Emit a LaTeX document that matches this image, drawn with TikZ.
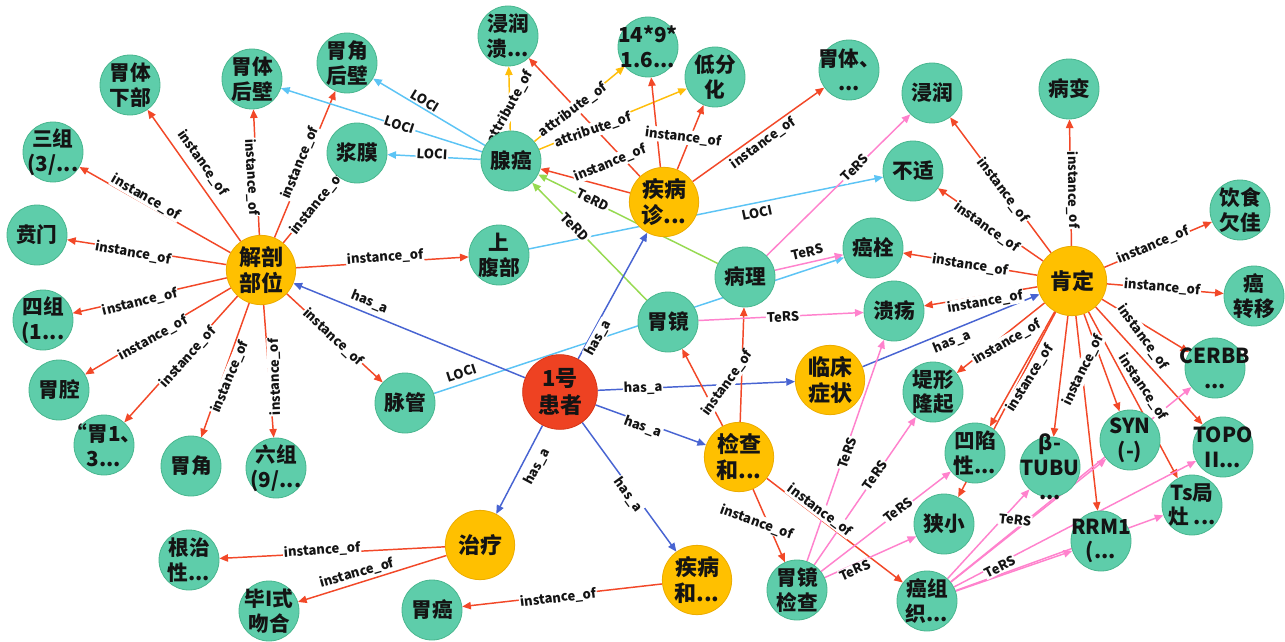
\documentclass[tikz,border=0pt]{standalone}
\usepackage{fontspec}
\newfontfamily\cjk{Noto Sans CJK SC}
\usetikzlibrary{arrows.meta,backgrounds}

\definecolor{gfill}{RGB}{94,205,170}
\definecolor{gline}{RGB}{72,182,142}
\definecolor{ofill}{RGB}{255,192,0}
\definecolor{oline}{RGB}{236,172,0}
\definecolor{rfill}{RGB}{238,66,34}
\definecolor{rline}{RGB}{214,52,22}
\definecolor{txt}{RGB}{20,20,20}
\definecolor{cio}{RGB}{242,72,40}
\definecolor{cloci}{RGB}{92,196,245}
\definecolor{cattr}{RGB}{255,190,10}
\definecolor{cterd}{RGB}{150,218,80}
\definecolor{chas}{RGB}{72,100,210}
\definecolor{cters}{RGB}{255,130,205}

% entity circles: the text is a centred label so it never resizes the circle
\newcommand{\gn}[3]{\node[gnode,label={[gtext]center:{#3}}] (#1) at (#2) {};}
\newcommand{\on}[3]{\node[onode,label={[otext]center:{#3}}] (#1) at (#2) {};}
% relation caption placed along the connector between two entities
\newcommand{\lb}[5]{\path (#1) -- (#2) node[lab,at={(#3)},rotate=#4] {#5};}

\begin{document}
\begin{tikzpicture}[x=0.75pt,y=-0.75pt,
  gnode/.style={circle,draw=gline,fill=gfill,line width=0.6pt,minimum size=45pt,inner sep=0pt},
  onode/.style={circle,draw=oline,fill=ofill,line width=0.6pt,minimum size=52pt,inner sep=0pt},
  rnode/.style={circle,draw=rline,fill=rfill,line width=0.6pt,minimum size=56pt,inner sep=0pt},
  gtext/.style={align=center,inner sep=0pt,text=txt,font=\cjk\bfseries\fontsize{15.5}{18.5}\selectfont},
  otext/.style={align=center,inner sep=0pt,text=txt,font=\cjk\bfseries\fontsize{16.5}{20}\selectfont},
  rel/.style={line width=1.1pt,-{Triangle[length=6.5pt,width=5.5pt]}},
  io/.style={rel,draw=cio},
  loci/.style={rel,draw=cloci},
  attr/.style={rel,draw=cattr},
  terd/.style={rel,draw=cterd},
  hasa/.style={rel,draw=chas},
  ters/.style={rel,draw=cters},
  lab/.style={fill=white,inner sep=0.7pt,text=txt,font=\cjk\bfseries\fontsize{9.8}{11}\selectfont}]
\useasboundingbox (0,0) rectangle (1285,642);

% ---------- hub entities ----------
\node[rnode,label={[otext]center:{1号\\患者}}] (hz) at (560,392) {};
\on{jpbw}{261,270}{解剖\\部位}
\on{jbzd}{664,202}{疾病\\诊...}
\on{kd}{1072,281}{肯定}
\on{lczz}{830,380}{临床\\症状}
\on{jch}{739,457}{检查\\和...}
\on{zl}{480,545}{治疗}
\on{jbh}{697,580}{疾病\\和...}

% ---------- leaf entities ----------
\gn{wtxb}{130,85}{胃体\\下部}
\gn{wthb}{252,79}{胃体\\后壁}
\gn{wjhb}{347,63}{胃角\\后壁}
\gn{sz}{53,152}{三组\\(3/...}
\gn{jm}{357,153}{浆膜}
\gn{bm}{37,235}{贲门}
\gn{siz}{43,320}{四组\\(1...}
\gn{wq}{59,390}{胃腔}
\gn{w13}{104,445}{“胃1、\\3...}
\gn{wj}{191,466}{胃角}
\gn{lz}{276,468}{六组\\(9/...}
\gn{mg}{405,403}{脉管}
\gn{sfb}{499,255}{上\\腹部}
\gn{xa}{511,161}{腺癌}
\gn{jrk}{508,36}{浸润\\溃...}
\gn{n14}{648,47}{14*9*\\1.6...}
\gn{dfh}{715,77}{低分\\化}
\gn{wtd}{849,70}{胃体、\\...}
\gn{jr}{932,93}{浸润}
\gn{bb}{1069,89}{病变}
\gn{bs}{913,171}{不适}
\gn{ysqj}{1240,210}{饮食\\欠佳}
\gn{ash}{873,248}{癌栓}
\gn{azy}{1254,296}{癌\\转移}
\gn{bl}{745,277}{病理}
\gn{wjg}{668,322}{胃镜}
\gn{ky}{894,311}{溃疡}
\gn{dxlq}{933,392}{堤形\\隆起}
\gn{cerbb}{1215,368}{CERBB\\...}
\gn{axx}{975,453}{凹陷\\性...}
\gn{btubu}{1050,467}{β-\\TUBU\\...}
\gn{syn}{1130,440}{SYN\\(-)}
\gn{topo}{1223,447}{TOPO\\II...}
\gn{xx}{944,524}{狭小}
\gn{ts}{1192,505}{Ts局\\灶 ...}
\gn{rrm1}{1101,541}{RRM1\\(...}
\gn{wjjc}{797,590}{胃镜\\检查}
\gn{azz}{927,601}{癌组\\织...}
\gn{gzx}{189,560}{根治\\性...}
\gn{bsw}{269,611}{毕I式\\吻合}
\gn{wa}{432,610}{胃癌}

\begin{scope}[on background layer]
\fill[white] (0,0) rectangle (1285,642);

% ---------- connectors ----------
\foreach \t in {wtxb,wthb,wjhb,jm,sz,bm,siz,wq,w13,wj,lz,mg,sfb}
  \draw[io] (jpbw) -- (\t);
\foreach \t in {wthb,wjhb,jm} \draw[loci] (xa) -- (\t);
\draw[loci] (sfb) -- (bs);
\draw[loci] (mg) -- (ash);
\foreach \t in {jrk,n14,dfh} \draw[attr] (xa) -- (\t);
\foreach \t in {xa,jrk,n14,dfh,wtd} \draw[io] (jbzd) -- (\t);
\draw[terd] (bl) -- (xa);
\draw[terd] (wjg) -- (xa);
\foreach \t in {jpbw,jbzd,lczz,jch,zl,jbh} \draw[hasa] (hz) -- (\t);
\draw[hasa] (lczz) -- (kd);
\foreach \t in {jr,bb,bs,ash,ky,ysqj,azy,dxlq,axx,xx,btubu,rrm1,syn,cerbb,topo,ts}
  \draw[io] (kd) -- (\t);
\foreach \t in {wjg,bl,wjjc,azz} \draw[io] (jch) -- (\t);
\draw[io] (zl) -- (gzx);
\draw[io] (zl) -- (bsw);
\draw[io] (jbh) -- (wa);
\draw[ters] (bl) -- (jr);
\draw[ters] (bl) -- (ash);
\draw[ters] (wjg) -- (ky);
\foreach \t in {ky,dxlq,axx,xx} \draw[ters] (wjjc) -- (\t);
\foreach \t in {btubu,syn,cerbb,topo,ts,rrm1} \draw[ters] (azz) -- (\t);

% ---------- relation captions ----------
\lb{jpbw}{wtxb}{203,163}{-55}{instance\_of}
\lb{jpbw}{wthb}{252,177}{-87}{instance\_of}
\lb{jpbw}{wjhb}{300,163}{67}{instance\_of}
\lb{jpbw}{jm}{317,203}{51}{instance\_of}
\lb{jpbw}{sz}{146,197}{-30}{instance\_of}
\lb{jpbw}{bm}{133,253}{-10}{instance\_of}
\lb{jpbw}{siz}{140,302}{14}{instance\_of}
\lb{jpbw}{wq}{153,338}{29}{instance\_of}
\lb{jpbw}{w13}{188,357}{48}{instance\_of}
\lb{jpbw}{wj}{230,377}{67}{instance\_of}
\lb{jpbw}{lz}{275,377}{92}{instance\_of}
\lb{jpbw}{mg}{333,337}{-43}{instance\_of}
\lb{jpbw}{sfb}{385,257}{4}{instance\_of}
\lb{xa}{wthb}{400,125}{-18}{LOCI}
\lb{xa}{wjhb}{425,101}{-31}{LOCI}
\lb{xa}{jm}{432,154}{-3}{LOCI}
\lb{xa}{jrk}{510,107}{61}{attribute\_of}
\lb{xa}{n14}{573,110}{36}{attribute\_of}
\lb{xa}{dfh}{593,130}{19}{attribute\_of}
\lb{jbzd}{jrk}{610,163}{22}{instance\_of}
\lb{jbzd}{dfh}{683,137}{-7}{instance\_of}
\lb{jbzd}{wtd}{763,143}{36}{instance\_of}
\lb{bl}{xa}{593,200}{-26}{TeRD}
\lb{wjg}{xa}{575,227}{-46}{TeRD}
\lb{sfb}{bs}{757,213}{12}{LOCI}
\lb{mg}{ash}{462,373}{18}{LOCI}
\lb{hz}{jpbw}{370,302}{-22}{has\_a}
\lb{hz}{jbzd}{598,338}{61}{has\_a}
\lb{hz}{lczz}{643,388}{2}{has\_a}
\lb{hz}{jch}{643,427}{-20}{has\_a}
\lb{hz}{zl}{537,467}{62}{has\_a}
\lb{hz}{jbh}{628,495}{-54}{has\_a}
\lb{lczz}{kd}{952,342}{22}{has\_a}
\lb{kd}{jr}{1003,190}{-53}{instance\_of}
\lb{kd}{bb}{1073,190}{-89}{instance\_of}
\lb{kd}{bs}{987,227}{-35}{instance\_of}
\lb{kd}{ash}{970,265}{-9}{instance\_of}
\lb{kd}{ky}{985,302}{10}{instance\_of}
\lb{kd}{ysqj}{1153,245}{23}{instance\_of}
\lb{kd}{azy}{1162,287}{-5}{instance\_of}
\lb{kd}{dxlq}{1007,342}{30}{instance\_of}
\lb{kd}{axx}{1030,378}{58}{instance\_of}
\lb{kd}{rrm1}{1083,370}{64}{instance\_of}
\lb{kd}{topo}{1143,337}{-54}{instance\_of}
\lb{kd}{ts}{1143,387}{-56}{instance\_of}
\lb{jch}{bl}{727,383}{54}{instance\_of}
\lb{jch}{wjjc}{757,522}{-20}{instance\_of}
\lb{jch}{azz}{820,510}{-37}{instance\_of}
\lb{zl}{gzx}{322,550}{4}{instance\_of}
\lb{zl}{bsw}{357,573}{16}{instance\_of}
\lb{jbh}{wa}{558,598}{7}{instance\_of}
\lb{bl}{jr}{855,168}{45}{TeRS}
\lb{bl}{ash}{807,252}{13}{TeRS}
\lb{wjg}{ky}{783,317}{3}{TeRS}
\lb{wjjc}{ky}{847,453}{71}{TeRS}
\lb{wjjc}{dxlq}{875,475}{55}{TeRS}
\lb{wjjc}{axx}{898,510}{38}{TeRS}
\lb{wjjc}{xx}{855,570}{24}{TeRS}
\lb{azz}{syn}{1015,520}{-6}{TeRS}
\lb{azz}{topo}{1000,567}{27}{TeRS}
\end{scope}
\end{tikzpicture}
\end{document}
